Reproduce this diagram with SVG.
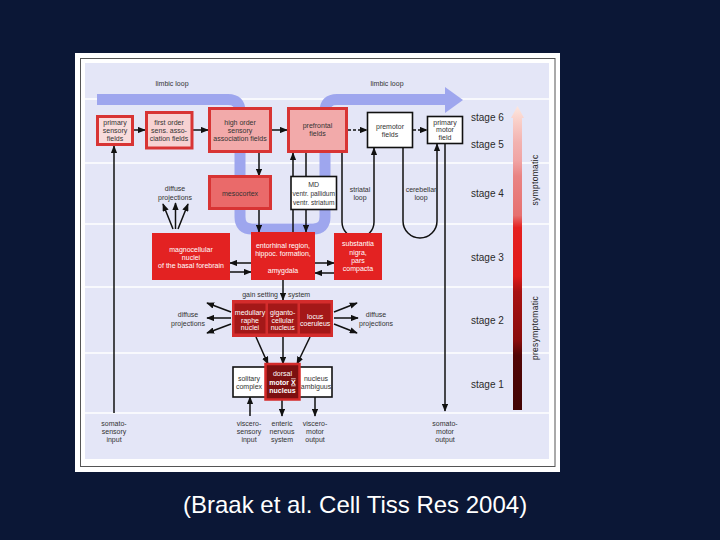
<svg xmlns="http://www.w3.org/2000/svg" width="720" height="540" viewBox="0 0 720 540">
<defs>
<linearGradient id="stageGrad" x1="0" y1="106" x2="0" y2="410" gradientUnits="userSpaceOnUse">
<stop offset="0" stop-color="#fde8e0"/>
<stop offset="0.05" stop-color="#f9cfc8"/>
<stop offset="0.12" stop-color="#f2b2b0"/>
<stop offset="0.18" stop-color="#f0a4a4"/>
<stop offset="0.23" stop-color="#e98484"/>
<stop offset="0.36" stop-color="#e67070"/>
<stop offset="0.40" stop-color="#e52020"/>
<stop offset="0.56" stop-color="#e01a1a"/>
<stop offset="0.61" stop-color="#a81212"/>
<stop offset="0.77" stop-color="#8a0c0c"/>
<stop offset="0.82" stop-color="#520606"/>
<stop offset="1" stop-color="#420404"/>
</linearGradient>
<marker id="ah" viewBox="0 0 10 8" refX="9" refY="4" markerWidth="8" markerHeight="6.4" markerUnits="userSpaceOnUse" orient="auto">
<path d="M0,0 L10,4 L0,8 z" fill="#111"/>
</marker>
</defs>
<style>
.t{font-family:"Liberation Sans",Arial,sans-serif;font-size:7px;fill:#333;text-anchor:middle}
.s{font-size:6.6px}
.w{fill:#fff}
.b{font-weight:bold}
.st{font-family:"Liberation Sans",Arial,sans-serif;font-size:10px;fill:#2a2a2a}
.vt{font-family:"Liberation Sans",Arial,sans-serif;font-size:8.5px;fill:#222;text-anchor:middle;letter-spacing:0.3px}
.pink{stroke:#d83434;stroke-width:3}
.blk{fill:#fff;stroke:#111;stroke-width:1.6}
.red{fill:#e32222}
.ln{stroke:#111;stroke-width:1.5;fill:none}
.arr{marker-end:url(#ah)}
.dash{stroke-dasharray:3,2}
.sep{stroke:#fff;stroke-width:1.5}
</style>

<!-- background and frame -->
<rect x="0" y="0" width="720" height="540" fill="#0b1736"/>
<rect x="75" y="53" width="485" height="419" fill="#ffffff"/>
<rect x="80.5" y="58.5" width="474.5" height="408" fill="none" stroke="#555" stroke-width="1"/>
<rect x="85" y="63" width="464" height="396" fill="#e4e6f7"/>

<!-- row separators -->
<g id="rows">
<line class="sep" x1="85" y1="99" x2="549" y2="99"/>
<line class="sep" x1="85" y1="163" x2="549" y2="163"/>
<line class="sep" x1="85" y1="224" x2="549" y2="224"/>
<line class="sep" x1="85" y1="287" x2="549" y2="287"/>
<line class="sep" x1="85" y1="353" x2="549" y2="353"/>
<line class="sep" x1="85" y1="413" x2="549" y2="413"/>
</g>

<!-- limbic loop -->
<g id="limbic-loop">
<path d="M97,99.5 H228 Q240,99.5 240,111.5 V217 Q240,229 252,229 H313 Q325,229 325,217 V111.5 Q325,99.5 337,99.5 H446" fill="none" stroke="#9ea6ee" stroke-width="11"/>
<polygon points="445,87 463,100 445,113" fill="#9ea6ee"/>
<text class="t" x="172" y="86">limbic loop</text>
<text class="t" x="387" y="86">limbic loop</text>
</g>

<!-- stage bar -->
<g id="stage-bar">
<path d="M513,410 V118 L511,118 L517.5,106 L524,118 L522,118 V410 Z" fill="url(#stageGrad)"/>
<text class="st" x="471" y="121">stage 6</text>
<text class="st" x="471" y="148">stage 5</text>
<text class="st" x="471" y="197">stage 4</text>
<text class="st" x="471" y="261">stage 3</text>
<text class="st" x="471" y="324">stage 2</text>
<text class="st" x="471" y="388">stage 1</text>
<text class="vt" transform="translate(538,180) rotate(-90)">symptomatic</text>
<text class="vt" transform="translate(538,328) rotate(-90)">presymptomatic</text>
</g>

<!-- connectors -->
<g id="connectors">
<line class="ln arr" x1="133" y1="130" x2="145" y2="130"/>
<line class="ln arr" x1="193" y1="130" x2="208" y2="130"/>
<line class="ln arr" x1="272" y1="130" x2="287" y2="130"/>
<line class="ln arr dash" x1="348" y1="130" x2="367" y2="130"/>
<line class="ln arr dash" x1="413" y1="130" x2="427" y2="130"/>
<line class="ln arr" x1="114" y1="413" x2="114" y2="146"/>
<line class="ln arr" x1="259" y1="153" x2="259" y2="176"/>
<line class="ln arr" x1="259" y1="210" x2="259" y2="232"/>
<line class="ln arr" x1="293" y1="232" x2="293" y2="153"/>
<line class="ln arr" x1="306" y1="153" x2="306" y2="232"/>
<path class="ln arr" d="M342,153 V222 A16,16 0 0 0 374,222 V148"/>
<path class="ln arr" d="M403,148 V221 A17,17 0 0 0 437,221 V144"/>
<line class="ln arr" x1="445" y1="144" x2="445" y2="411"/>
<line class="ln arr" x1="173" y1="229" x2="163" y2="204"/>
<line class="ln arr" x1="175.5" y1="229" x2="175.5" y2="203"/>
<line class="ln arr" x1="178" y1="229" x2="188" y2="204"/>
<line class="ln arr" x1="251" y1="263" x2="230" y2="263"/>
<line class="ln arr" x1="230" y1="272" x2="251" y2="272"/>
<line class="ln arr" x1="315" y1="263" x2="334" y2="263"/>
<line class="ln arr" x1="334" y1="273" x2="315" y2="273"/>
<line class="ln arr" x1="283" y1="280" x2="283" y2="300"/>
<line class="ln arr" x1="231" y1="312" x2="207" y2="303"/>
<line class="ln arr" x1="231" y1="318" x2="207" y2="318"/>
<line class="ln arr" x1="231" y1="324" x2="207" y2="333"/>
<line class="ln arr" x1="334" y1="312" x2="357" y2="303"/>
<line class="ln arr" x1="334" y1="318" x2="358" y2="318"/>
<line class="ln arr" x1="334" y1="324" x2="357" y2="333"/>
<line class="ln arr" x1="256" y1="337" x2="268" y2="364"/>
<line class="ln arr" x1="283" y1="337" x2="283" y2="364"/>
<line class="ln arr" x1="310" y1="337" x2="297" y2="364"/>
<line class="ln arr" x1="250" y1="416" x2="250" y2="397"/>
<line class="ln arr" x1="282" y1="400" x2="282" y2="416"/>
<line class="ln arr" x1="315" y1="397" x2="315" y2="416"/>
</g>

<!-- nodes -->
<g id="primary-sensory-fields">
<rect x="97.5" y="116.5" width="35" height="28" fill="#f9dcdc" class="pink"/>
<text class="t" x="115" y="124.5">primary</text>
<text class="t" x="115" y="132.5">sensory</text>
<text class="t" x="115" y="140.5">fields</text>
</g>
<g id="first-order-fields">
<rect x="146.5" y="112.5" width="45.5" height="35.5" fill="#f7d2d2" class="pink"/>
<text class="t" x="169" y="124.5">first order</text>
<text class="t" x="169" y="132.5">sens. asso-</text>
<text class="t" x="169" y="140.5">ciation fields</text>
</g>
<g id="high-order-fields">
<rect x="209.5" y="108.5" width="61" height="43" fill="#f2aaaa" class="pink"/>
<text class="t" x="240" y="124.5">high order</text>
<text class="t" x="240" y="132.5">sensory</text>
<text class="t" x="240" y="140.5">association fields</text>
</g>
<g id="prefrontal-fields">
<rect x="288.5" y="108.5" width="58" height="43" fill="#f2aaaa" class="pink"/>
<text class="t" x="317.5" y="127.5">prefrontal</text>
<text class="t" x="317.5" y="135.5">fields</text>
</g>
<g id="premotor-fields">
<rect x="367.5" y="112.5" width="45" height="35" class="blk"/>
<text class="t" x="390" y="128.5">premotor</text>
<text class="t" x="390" y="136.5">fields</text>
</g>
<g id="primary-motor-field">
<rect x="427.5" y="116.5" width="35" height="27" class="blk"/>
<text class="t" x="445" y="124.5">primary</text>
<text class="t" x="445" y="132">motor</text>
<text class="t" x="445" y="139.5">field</text>
</g>
<g id="mesocortex">
<rect x="209.5" y="176.5" width="61" height="32" fill="#ea6a6a" class="pink"/>
<text class="t" x="240" y="195.5">mesocortex</text>
</g>
<g id="md-ventral">
<rect x="291" y="176.5" width="45.5" height="33" class="blk"/>
<text class="t" x="313.7" y="186.5">MD</text>
<text class="t s" x="313.7" y="196">ventr. pallidum</text>
<text class="t s" x="313.7" y="204.5">ventr. striatum</text>
</g>
<g id="labels-stage4">
<text class="t" x="175" y="190.5">diffuse</text>
<text class="t" x="175" y="199.5">projections</text>
<text class="t" x="360" y="191.5">striatal</text>
<text class="t" x="360" y="199.5">loop</text>
<text class="t" x="421" y="191.5">cerebellar</text>
<text class="t" x="421" y="199.5">loop</text>
</g>
<g id="magnocellular-nuclei">
<rect x="152" y="233" width="78" height="47" class="red"/>
<text class="t w" x="191" y="251.5">magnocellular</text>
<text class="t w" x="191" y="259.5">nuclei</text>
<text class="t w" x="191" y="267.5">of the basal forebrain</text>
</g>
<g id="entorhinal-region">
<rect x="251" y="232" width="64" height="48" class="red"/>
<text class="t w" x="283" y="247.5">entorhinal region,</text>
<text class="t w" x="283" y="255.5">hippoc. formation,</text>
<text class="t w" x="283" y="272.5">amygdala</text>
</g>
<g id="substantia-nigra">
<rect x="334" y="233" width="48" height="47" class="red"/>
<text class="t w" x="358" y="246">substantia</text>
<text class="t w" x="358" y="254.5">nigra,</text>
<text class="t w" x="358" y="262.5">pars</text>
<text class="t w" x="358" y="271">compacta</text>
</g>
<g id="gain-setting-system">
<text class="t" x="278" y="296.5" style="text-anchor:end">gain setting</text>
<text class="t" x="288" y="296.5" style="text-anchor:start">system</text>
<rect x="232" y="300" width="101" height="37" fill="#d42c2c"/>
<rect x="234.5" y="303.5" width="31" height="30" fill="#a41818"/>
<rect x="268" y="303.5" width="29.5" height="30" fill="#a41818"/>
<rect x="300" y="303.5" width="30.5" height="30" fill="#a41818"/>
<text class="t w" x="250" y="314.5">medullary</text>
<text class="t w" x="250" y="322.5">raphe</text>
<text class="t w" x="250" y="330">nuclei</text>
<text class="t w" x="282.7" y="314.5">giganto-</text>
<text class="t w" x="282.7" y="322.5">cellular</text>
<text class="t w" x="282.7" y="330">nucleus</text>
<text class="t w" x="315.2" y="318.5">locus</text>
<text class="t w" x="315.2" y="326">coeruleus</text>
</g>
<g id="labels-stage2">
<text class="t" x="188" y="316.5">diffuse</text>
<text class="t" x="188" y="325.5">projections</text>
<text class="t" x="376" y="316.5">diffuse</text>
<text class="t" x="376" y="325.5">projections</text>
</g>
<g id="stage1-nuclei">
<rect x="233" y="367" width="99" height="30" class="blk"/>
<text class="t" x="249" y="381">solitary</text>
<text class="t" x="249" y="389">complex</text>
<text class="t" x="316" y="380.5">nucleus</text>
<text class="t" x="316" y="389">ambiguus</text>
</g>
<g id="dorsal-motor-nucleus">
<rect x="265.5" y="364" width="34" height="35.5" fill="#7c1010" stroke="#d42a2a" stroke-width="2.5"/>
<text class="t w" x="282.5" y="376">dorsal</text>
<text class="t w b" x="282.5" y="384.5">motor <tspan style="text-decoration:underline overline">X</tspan></text>
<text class="t w b" x="282.5" y="393">nucleus</text>
</g>
<g id="io-labels">
<text class="t" x="114" y="425.5">somato-</text>
<text class="t" x="114" y="433.5">sensory</text>
<text class="t" x="114" y="441.5">input</text>
<text class="t" x="249" y="425.5">viscero-</text>
<text class="t" x="249" y="433.5">sensory</text>
<text class="t" x="249" y="441.5">input</text>
<text class="t" x="282" y="425.5">enteric</text>
<text class="t" x="282" y="433.5">nervous</text>
<text class="t" x="282" y="441.5">system</text>
<text class="t" x="315" y="425.5">viscero-</text>
<text class="t" x="315" y="433.5">motor</text>
<text class="t" x="315" y="441.5">output</text>
<text class="t" x="445" y="425.5">somato-</text>
<text class="t" x="445" y="433.5">motor</text>
<text class="t" x="445" y="441.5">output</text>
</g>

<text x="183" y="513" font-family="'Liberation Sans',Arial,sans-serif" font-size="24" fill="#ffffff">(Braak et al. Cell Tiss Res 2004)</text>
</svg>
